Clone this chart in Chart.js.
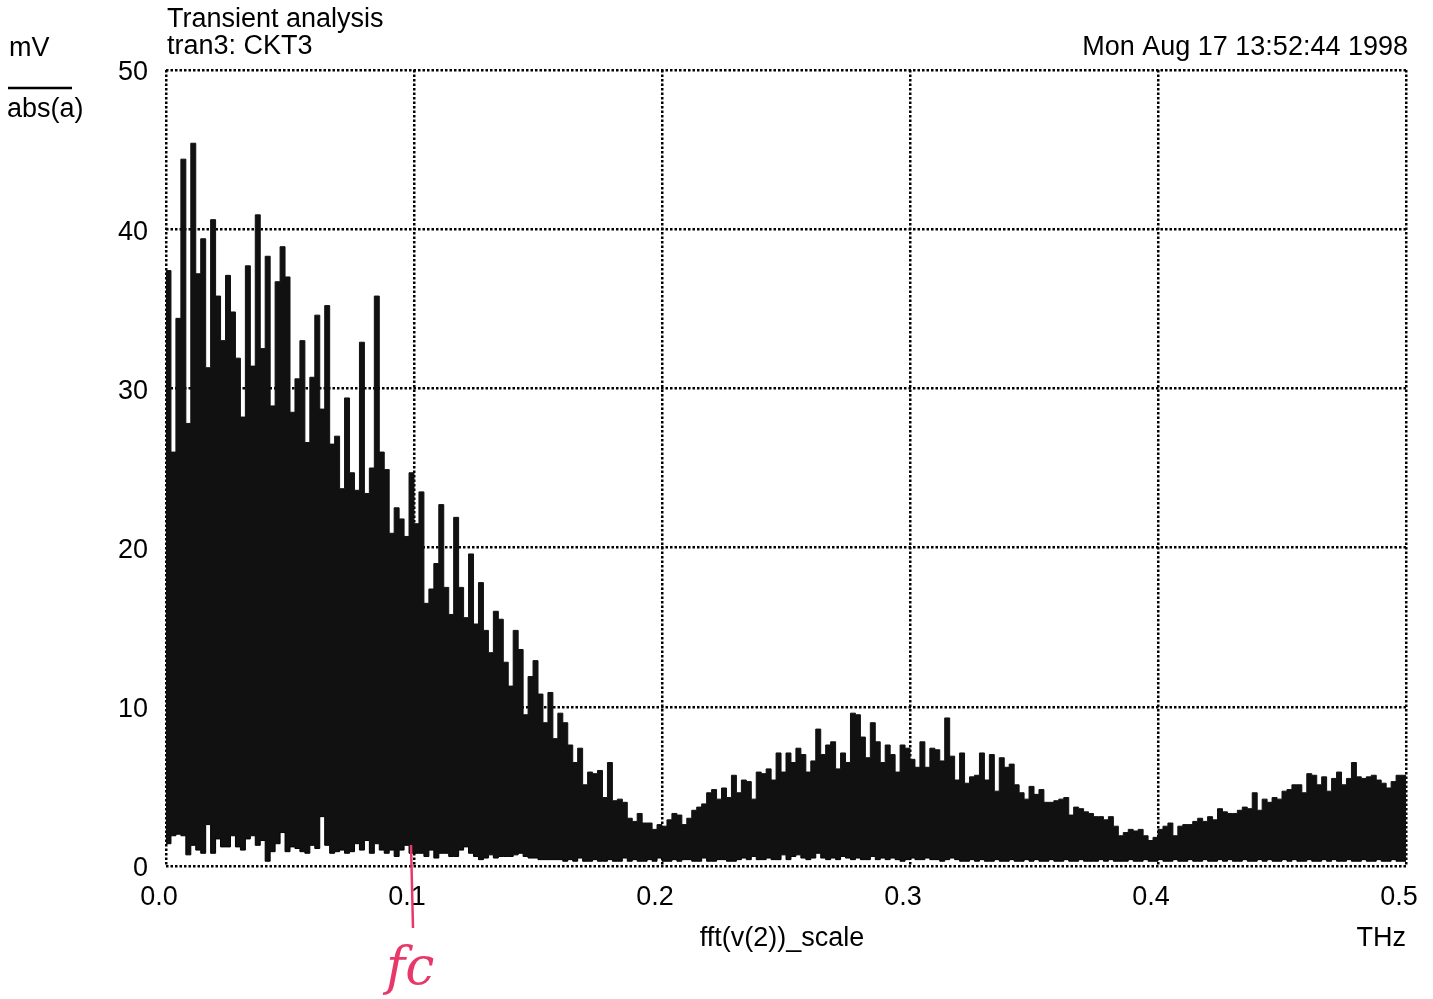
<!DOCTYPE html>
<html>
<head>
<meta charset="utf-8">
<title>Transient analysis - fft(v(2))</title>
<script src="https://cdn.jsdelivr.net/npm/chart.js@4.4.0/dist/chart.umd.min.js"></script>
<style>
	html, body { margin: 0; padding: 0; background: #fff; }
	#wrap { position: relative; width: 1433px; height: 999px; }
</style>
</head>
<body>
<div id="wrap"><canvas id="fft-viz" width="1433" height="999"></canvas></div>
<script>
// FFT magnitude of v(2), one value per bin (mV)
var BIN_WIDTH = 0.002;	// THz per bin as drawn

// upper envelope of the trace
var hi_mV = [
	36.0, 37.4, 26.0, 34.4, 44.4, 27.8, 45.4, 37.2, 39.4, 31.3,
	40.6, 35.8, 33.0, 37.1, 34.8, 31.9, 28.2, 37.7, 31.4, 40.9,
	32.5, 38.3, 28.9, 36.7, 38.9, 37.0, 28.5, 30.6, 33.0, 26.6,
	30.7, 34.6, 28.7, 35.2, 26.5, 27.0, 23.7, 29.4, 24.7, 23.6,
	32.9, 23.4, 25.0, 35.8, 26.0, 24.9, 20.9, 22.5, 21.8, 20.7,
	24.7, 21.5, 23.5, 16.5, 17.4, 19.0, 22.7, 17.5, 15.8, 21.9,
	17.5, 15.6, 19.6, 15.2, 17.8, 14.8, 13.4, 16.0, 15.5, 12.8,
	11.3, 14.8, 13.6,  9.5, 11.9, 12.9, 10.8,  9.0, 10.9,  8.0,
	 9.6,  9.0,  7.6,  6.5,  7.4,  5.1,  5.9,  5.8,  6.0,  4.3,
	 6.5,  4.1,  4.2,  4.0,  3.0,  2.8,  3.3,  2.7,  2.7,  2.3,
	 2.6,  2.5,  2.9,  3.3,  3.2,  2.6,  3.0,  3.5,  3.7,  3.9,
	 4.6,  4.8,  4.2,  4.9,  4.3,  5.7,  4.6,  5.4,  5.3,  4.2,
	 5.9,  5.8,  6.1,  5.4,  7.1,  5.9,  7.1,  6.5,  7.4,  7.0,
	 5.9,  6.6,  8.6,  7.0,  7.6,  7.8,  6.1,  7.1,  6.5,  9.6,
	 9.5,  8.1,  6.8,  9.0,  7.8,  6.5,  7.6,  7.0,  5.9,  7.6,
	 7.4,  6.7,  6.2,  7.8,  6.2,  7.4,  7.3,  6.6,  9.3,  6.9,
	 5.4,  7.1,  5.2,  5.6,  5.7,  7.1,  5.4,  7.0,  4.7,  6.8,
	 6.2,  6.4,  5.1,  4.6,  4.2,  5.0,  4.5,  4.8,  4.0,  4.0,
	 4.1,  4.2,  4.3,  3.2,  3.7,  3.6,  3.4,  3.3,  3.1,  3.1,
	 2.9,  3.1,  2.5,  1.9,  2.1,  2.3,  2.2,  2.3,  1.9,  1.6,
	 1.8,  2.3,  2.5,  2.7,  1.9,  2.5,  2.6,  2.6,  2.8,  3.0,
	 2.8,  3.1,  2.9,  3.6,  3.4,  3.3,  3.3,  3.5,  3.7,  3.6,
	 4.6,  3.5,  4.2,  4.0,  4.3,  4.2,  4.7,  4.8,  5.1,  5.1,
	 4.6,  5.8,  5.7,  5.1,  5.6,  4.7,  5.5,  5.9,  5.1,  5.5,
	 6.5,  5.6,  5.5,  5.6,  5.7,  5.4,  5.2,  4.9,  5.3,  5.7
];

// lower envelope of the trace (white underneath)
var lo_mV = [
	1.4, 1.4, 1.9, 2.0, 1.9, 0.7, 1.3, 1.0, 0.8, 2.6,
	0.8, 1.7, 1.2, 1.2, 1.9, 1.2, 1.0, 1.7, 1.9, 1.3,
	1.6, 0.3, 0.9, 1.4, 2.1, 0.9, 1.2, 1.1, 0.9, 0.8,
	1.3, 1.1, 3.1, 1.3, 0.8, 0.9, 1.0, 0.8, 0.9, 1.4,
	1.0, 1.6, 0.8, 1.4, 1.0, 0.8, 1.0, 0.6, 1.0, 1.3,
	0.8, 0.8, 0.8, 0.6, 1.0, 0.5, 0.8, 0.8, 0.6, 0.6,
	1.0, 1.2, 0.8, 0.6, 0.4, 0.5, 0.7, 0.5, 0.6, 0.6,
	0.6, 0.7, 0.8, 0.6, 0.5, 0.5, 0.4, 0.4, 0.4, 0.4,
	0.4, 0.3, 0.4, 0.3, 0.5, 0.3, 0.3, 0.4, 0.3, 0.3,
	0.4, 0.3, 0.3, 0.5, 0.3, 0.4, 0.3, 0.3, 0.4, 0.3,
	0.5, 0.3, 0.3, 0.4, 0.3, 0.4, 0.4, 0.3, 0.3, 0.5,
	0.3, 0.3, 0.4, 0.4, 0.3, 0.3, 0.4, 0.5, 0.4, 0.6,
	0.4, 0.4, 0.5, 0.4, 0.4, 0.7, 0.4, 0.6, 0.7, 0.5,
	0.4, 0.5, 0.8, 0.5, 0.4, 0.5, 0.4, 0.6, 0.5, 0.4,
	0.5, 0.4, 0.4, 0.6, 0.4, 0.5, 0.4, 0.5, 0.4, 0.3,
	0.4, 0.5, 0.4, 0.4, 0.5, 0.4, 0.4, 0.3, 0.4, 0.5,
	0.4, 0.3, 0.3, 0.4, 0.3, 0.4, 0.3, 0.3, 0.4, 0.3,
	0.3, 0.4, 0.3, 0.3, 0.4, 0.3, 0.4, 0.3, 0.3, 0.4,
	0.3, 0.3, 0.4, 0.3, 0.3, 0.4, 0.3, 0.3, 0.3, 0.4,
	0.3, 0.4, 0.3, 0.3, 0.3, 0.4, 0.3, 0.3, 0.4, 0.3,
	0.3, 0.4, 0.3, 0.3, 0.4, 0.3, 0.3, 0.4, 0.3, 0.3,
	0.4, 0.3, 0.3, 0.4, 0.3, 0.4, 0.3, 0.3, 0.4, 0.3,
	0.3, 0.4, 0.3, 0.4, 0.3, 0.3, 0.4, 0.3, 0.4, 0.3,
	0.3, 0.4, 0.3, 0.3, 0.4, 0.3, 0.4, 0.3, 0.3, 0.4,
	0.3, 0.3, 0.4, 0.3, 0.3, 0.4, 0.3, 0.3, 0.4, 0.3
];

var xTicks = [ 0.0, 0.1, 0.2, 0.3, 0.4, 0.5 ];
var yTicks = [ 0, 10, 20, 30, 40, 50 ];

var title_lines = [ 'Transient analysis', 'tran3: CKT3' ];
var date_label = 'Mon Aug 17 13:52:44 1998';
var yUnit_top = 'mV';
var yUnit_bottom = 'abs(a)';
var xAxis_label = 'fft(v(2))_scale';
var xAxis_unit = 'THz';
var marker_freq = 0.1;		// hand-drawn cut-off mark
var marker_label = 'fc';

var FONT = '"Liberation Sans", Arial, Helvetica, sans-serif';
var FONT_SIZE = 27;


// turn bin values into stepped {x,y} points, closing the last bin at 0.5 THz
function to_steps(vals) {
	var pts = [];
	for (var i = 0; i < vals.length; i++) {
		pts.push({ x: i * BIN_WIDTH, y: vals[i] });
	}
	pts.push({ x: vals.length * BIN_WIDTH, y: vals[vals.length - 1] });
	return pts;
} // to_steps


// header texts, unit fraction, axis label and the red fc mark
var decorPlugin = {
	id: 'decor',
	afterDraw: function(chart) {
		var ctx = chart.ctx;
		var xs = chart.scales.x;
		ctx.save();
		ctx.fillStyle = '#000';
		ctx.font = FONT_SIZE + 'px ' + FONT;
		ctx.textBaseline = 'alphabetic';

		ctx.textAlign = 'left';
		ctx.fillText(title_lines[0], 167, 27);
		ctx.fillText(title_lines[1], 167, 54);
		ctx.fillText(yUnit_top, 9, 56);
		ctx.fillText(yUnit_bottom, 7, 117);

		ctx.strokeStyle = '#000';
		ctx.lineWidth = 2.5;
		ctx.beginPath();
		ctx.moveTo(8, 88);
		ctx.lineTo(72, 88);
		ctx.stroke();

		ctx.textAlign = 'right';
		ctx.fillText(date_label, 1408, 55);
		ctx.fillText(xAxis_unit, 1406, 946);

		ctx.textAlign = 'center';
		ctx.fillText(xAxis_label, 782, 946);

		// red pen mark at the cut-off frequency
		var mx = xs.getPixelForValue(marker_freq) - 2;
		ctx.strokeStyle = '#e8386a';
		ctx.fillStyle = '#e8386a';
		ctx.lineWidth = 2.5;
		ctx.beginPath();
		ctx.moveTo(mx - 1, 845);
		ctx.lineTo(mx + 1, 928);
		ctx.stroke();
		ctx.font = 'italic 52px "DejaVu Serif", serif';
		ctx.textAlign = 'left';
		ctx.fillText(marker_label, mx - 26, 984);
		ctx.restore();
	}
};


function generate_fft_viz(canvas_id) {
	var ctx = document.getElementById(canvas_id);

	var lo_dataset = {	label: 'abs(a) min',
						data: to_steps(lo_mV),
						stepped: 'after',
						borderColor: '#000',
						borderWidth: 1,
						pointRadius: 0,
						fill: false
					};
	var hi_dataset = {	label: 'abs(a)',
						data: to_steps(hi_mV),
						stepped: 'after',
						borderColor: '#111',
						borderWidth: 1,
						backgroundColor: '#111',
						pointRadius: 0,
						fill: '-1'
					};

	var cfg = {
		type: 'line',
		data: { datasets: [ lo_dataset, hi_dataset ] },
		options: {
			responsive: false,
			animation: false,
			events: [],
			devicePixelRatio: 1,
			layout: { padding: { top: 70, right: 27, left: 0, bottom: 0 } },
			plugins: {
				legend: { display: false },
				tooltip: { enabled: false }
			},
			scales: {
				x: {
					type: 'linear',
					min: 0, max: 0.5,
					afterBuildTicks: function(scale) {
						scale.ticks = xTicks.map(function(v) { return { value: v }; });
					},
					afterFit: function(scale) {
						scale.height = 133;
						scale.paddingLeft = 0;
						scale.paddingRight = 0;
					},
					grid: { color: '#000', lineWidth: 2.5, drawTicks: false },
					border: { display: false, dash: [2.5, 2] },
					ticks: {
						color: '#000',
						font: { family: FONT, size: FONT_SIZE },
						padding: 15,
						labelOffset: -7,
						maxRotation: 0,
						callback: function(v) { return Number(v).toFixed(1); }
					}
				},
				y: {
					min: 0, max: 50,
					afterBuildTicks: function(scale) {
						scale.ticks = yTicks.map(function(v) { return { value: v }; });
					},
					afterFit: function(scale) {
						scale.width = 166;
						scale.paddingTop = 0;
						scale.paddingBottom = 0;
					},
					grid: { color: '#000', lineWidth: 2.5, drawTicks: false },
					border: { display: false, dash: [2.5, 2] },
					ticks: {
						color: '#000',
						font: { family: FONT, size: FONT_SIZE },
						padding: 18,
						labelOffset: 3
					}
				}
			}
		},
		plugins: [ decorPlugin ]
	};
	new Chart(ctx, cfg);
} // generate_fft_viz

generate_fft_viz('fft-viz');
</script>
</body>
</html>
